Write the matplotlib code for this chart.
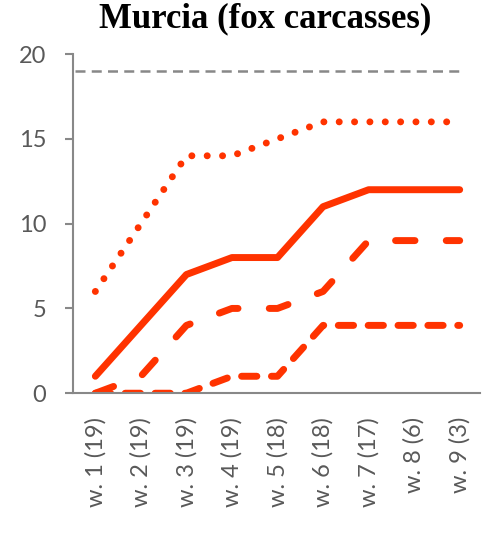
import matplotlib.pyplot as plt

# weekly cumulative values
weeks = ["w. 1 (19)", "w. 2 (19)", "w. 3 (19)", "w. 4 (19)", "w. 5 (18)",
         "w. 6 (18)", "w. 7 (17)", "w. 8 (6)", "w. 9 (3)"]
dotted_vals = [6, 10, 14, 14, 15, 16, 16, 16, 16]
solid_vals = [1, 4, 7, 8, 8, 11, 12, 12, 12]
longdash_vals = [0, 1, 4, 5, 5, 6, 9, 9, 9]
shortdash_vals = [0, 0, 0, 1, 1, 4, 4, 4, 4]
total_line = 19

red = "#FF3300"
gray = "#888888"
lw = 5

fig = plt.figure(figsize=(4.87, 5.35), dpi=100)
ax = fig.add_axes([0.149, 0.265, 0.837, 0.634])

x = range(len(weeks))

ax.hlines(total_line, -0.45, len(weeks) - 1, colors=gray, linewidth=1.8,
          linestyles=(0, (4, 2.5)))

ax.plot(x, dotted_vals, color=red, linewidth=lw, linestyle=(0, (0.01, 2.2)),
        dash_capstyle="round", solid_joinstyle="round")
ax.plot(x, solid_vals, color=red, linewidth=lw, solid_capstyle="round",
        solid_joinstyle="round")
ax.plot(x, longdash_vals, color=red, linewidth=lw, linestyle=(0, (2.8, 4.5)),
        dash_capstyle="round", dash_joinstyle="round")
ax.plot(x, shortdash_vals, color=red, linewidth=lw, linestyle=(0, (2.2, 2.1)),
        dash_capstyle="round", dash_joinstyle="round")

ax.set_xlim(-0.5, len(weeks) - 0.55)
ax.set_ylim(0, 20)
ax.set_yticks([0, 5, 10, 15, 20])
ax.set_xticks(list(x))
ax.set_xticklabels(weeks, rotation=90, va="top", ha="center")

for side in ["top", "right"]:
    ax.spines[side].set_visible(False)
for side in ["left", "bottom"]:
    ax.spines[side].set_color(gray)
    ax.spines[side].set_linewidth(1.5)

ax.tick_params(axis="y", length=6, width=1.5, color=gray, pad=13,
               labelsize=17, labelcolor="#595959")
ax.tick_params(axis="x", length=0, pad=17, labelsize=17, labelcolor="#595959")
for lab in ax.get_xticklabels() + ax.get_yticklabels():
    lab.set_family("Lato")

fig.text(265 / 487, 1 - 19 / 535, "Murcia (fox carcasses)", ha="center",
         va="center", fontsize=25, fontweight="bold", family="Liberation Serif")

fig.savefig("out.png", dpi=100)
